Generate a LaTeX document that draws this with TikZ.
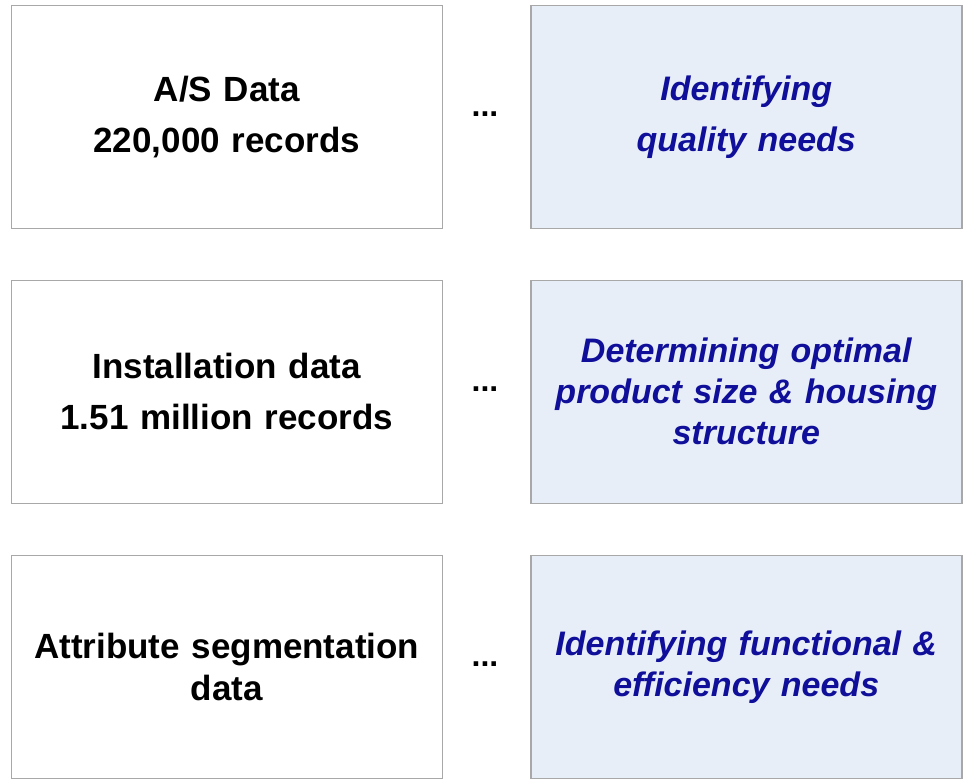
\documentclass[tikz,border=0pt]{standalone}
\usepackage{fontspec}
\setmainfont{Liberation Sans}
\definecolor{boxline}{HTML}{A8A8A8}
\definecolor{rfill}{HTML}{E8EEF8}
\definecolor{rtext}{HTML}{0F0F9A}
\begin{document}
\begin{tikzpicture}[x=1pt,y=-1pt,
  lbox/.style={draw=boxline,line width=1.5pt,minimum width=431pt,minimum height=223pt,anchor=north west,inner sep=0pt,align=center,font=\fontsize{35}{51}\selectfont\bfseries,text width=428pt},
  lboxb/.style={lbox,font=\fontsize{35}{42}\selectfont\bfseries},
  rbox/.style={lbox,fill=rfill,text=rtext,font=\fontsize{34}{41}\selectfont\bfseries\itshape},
  rboxw/.style={rbox,font=\fontsize{34}{51}\selectfont\bfseries\itshape},
  dots/.style={font=\fontsize{32}{40}\selectfont\bfseries}]
\useasboundingbox (0,0) rectangle (973,779);
\node[lbox] (l1) at (10.5,4.5) {A/S Data\\220,000 records};
\node[lbox] (l2) at (10.5,279.5) {Installation data\\1.51 million records};
\node[lboxb] (l3) at (10.5,554.5) {Attribute segmentation\\data};
\node[rboxw] (r1) at (530,4.5) {Identifying\\quality needs};
\node[rbox] (r2) at (530,279.5) {Determining optimal\\product size \& housing\\structure};
\node[rbox] (r3) at (530,554.5) {Identifying functional \&\\efficiency needs};
\node[dots] (d1) at (485,114) {...};
\node[dots] (d2) at (485,389) {...};
\node[dots] (d3) at (485,664) {...};
\end{tikzpicture}
\end{document}
